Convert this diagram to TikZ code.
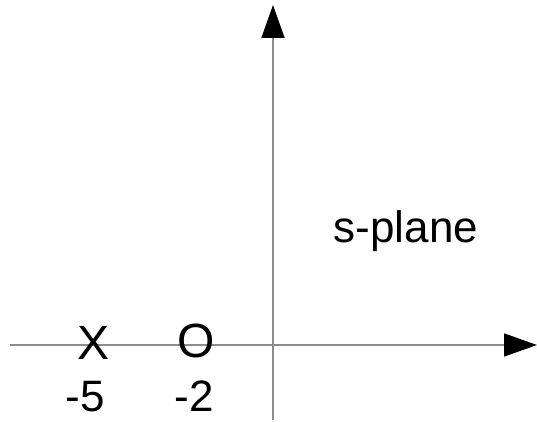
\documentclass[tikz,border=0pt]{standalone}
\usepackage{fontspec}
\setmainfont{Liberation Sans}
\usepackage{tikz}
\usetikzlibrary{arrows.meta,positioning}
\definecolor{axisgray}{HTML}{8C8C8C}

\begin{document}
\begin{tikzpicture}[x=0.5pt,y=-0.5pt,
  axis/.style={axisgray,line width=0.8pt,-{Triangle[length=16.5pt,width=11.5pt,black]}},
  pz/.style={inner sep=0pt,anchor=base,font=\fontsize{24}{24}\selectfont},
  lbl/.style={inner sep=0pt,anchor=base,font=\fontsize{22}{22}\selectfont}]
  \useasboundingbox (0,0) rectangle (537,422);
  % axes
  \coordinate (xl) at (10,345);
  \coordinate (xr) at (537,345);
  \coordinate (yb) at (273,420);
  \coordinate (yt) at (273,5);
  \draw[axis] (xl) -- (xr);
  \draw[axis] (yb) -- (yt);
  % pole and zero
  \node[pz] (pole) at (94,360) {X};
  \node[pz] (zero) at (196,358) {O};
  \node[lbl] (pl) at (85,412) {-5};
  \node[lbl] (zl) at (194,412) {-2};
  \node[lbl] (sp) at (406,243) {s-plane};
\end{tikzpicture}
\end{document}
